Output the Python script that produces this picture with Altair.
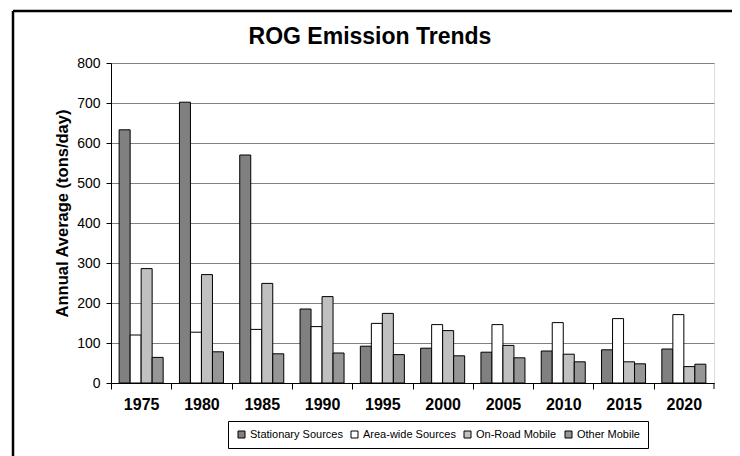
import altair as alt
import pandas as pd

years = ["1975", "1980", "1985", "1990", "1995", "2000", "2005", "2010", "2015", "2020"]
series = ["Stationary Sources", "Area-wide Sources", "On-Road Mobile", "Other Mobile"]
stationary = [633, 702, 570, 185, 92, 87, 77, 80, 83, 85]
area_wide = [120, 127, 134, 141, 149, 146, 146, 151, 161, 171]
on_road = [286, 271, 249, 216, 174, 131, 94, 72, 53, 41]
other_mobile = [64, 78, 73, 75, 71, 68, 63, 53, 48, 47]
colors = ["#808080", "#ffffff", "#c0c0c0", "#969696"]
title_text = "ROG Emission Trends"

rows = []
for name, vals in zip(series, [stationary, area_wide, on_road, other_mobile]):
    for y, v in zip(years, vals):
        rows.append({"Year": y, "Source": name, "Value": v})
df = pd.DataFrame(rows)

FONT = "Liberation Sans"

bars = alt.Chart(df).mark_bar(stroke="black", strokeWidth=1).encode(
    x=alt.X("Year:N", sort=years,
            scale=alt.Scale(paddingInner=0.27, paddingOuter=0.135),
            axis=alt.Axis(title=None, labelAngle=0, labelFont=FONT, labelFontSize=16,
                          labelFontWeight="bold", labelColor="black", tickColor="black",
                          domainColor="black", tickSize=6, tickOffset=-30.15,
                          labelOffset=30.15, labelPadding=7, grid=False)),
    xOffset=alt.XOffset("Source:N", sort=series),
    y=alt.Y("Value:Q", scale=alt.Scale(domain=[0, 800], nice=False),
            axis=alt.Axis(title="Annual Average (tons/day)", values=list(range(0, 801, 100)),
                          titleFont=FONT, titleFontSize=16.5, titleFontWeight="bold",
                          titleColor="black", titlePadding=6, titleY=150,
                          labelFont=FONT, labelFontSize=14, labelColor="black",
                          labelPadding=6,
                          tickColor="black", domainColor="black", tickSize=5,
                          gridColor="#808080", gridWidth=1)),
    color=alt.Color("Source:N", sort=series,
                    scale=alt.Scale(domain=series, range=colors),
                    legend=alt.Legend(title=None, orient="none", direction="horizontal",
                                      legendX=117, legendY=358, columns=4,
                                      symbolType="square", symbolSize=49,
                                      symbolStrokeColor="black", symbolStrokeWidth=1,
                                      labelFont=FONT, labelFontSize=11, labelColor="black",
                                      labelOffset=3, columnPadding=6,
                                      padding=8, strokeColor="black", fillColor="white")),
)

end_tick = alt.Chart(pd.DataFrame({"a": [0]})).mark_rule(color="black").encode(
    x=alt.value(603), y=alt.value(320), y2=alt.value(326))

title = alt.Chart(pd.DataFrame({"t": [title_text]})).mark_text(
    font=FONT, fontSize=23, fontWeight="bold", color="black", baseline="middle", align="center"
).encode(x=alt.value(259), y=alt.value(-26), text="t:N")

frame_v = alt.Chart(pd.DataFrame({"a": [0]})).mark_rule(color="black", strokeWidth=2.5).encode(
    x=alt.value(-98), y=alt.value(-52), y2=alt.value(420))
frame_h = alt.Chart(pd.DataFrame({"a": [0]})).mark_rule(color="black", strokeWidth=2.5).encode(
    x=alt.value(-98), x2=alt.value(700), y=alt.value(-52))

chart = alt.layer(bars, end_tick, title, frame_v, frame_h).properties(
    width=603, height=320,
    autosize=alt.AutoSizeParams(type="none"),
    padding={"left": 103, "top": 55, "right": 18, "bottom": 73},
).configure_view(stroke="black", strokeWidth=1).configure(background="white")

chart.save("out.html", embed_options={"renderer": "svg", "actions": False})
